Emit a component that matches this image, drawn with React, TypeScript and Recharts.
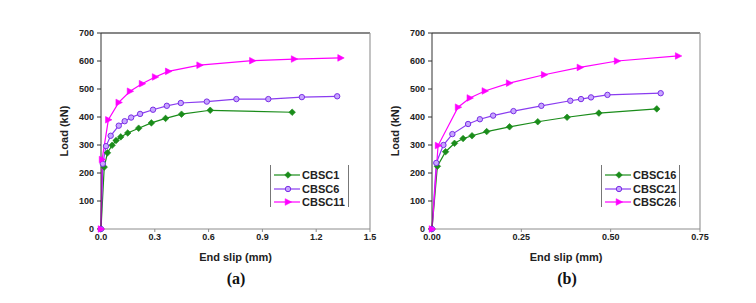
import React from 'react';
import { LineChart, Line, XAxis, YAxis, ReferenceLine } from 'recharts';

// (a) series: end slip (mm) and load (kN)
const cbsc1Slip = [0, 0.018, 0.036, 0.062, 0.084, 0.11, 0.149, 0.21, 0.281, 0.36, 0.449, 0.609, 1.066];
const cbsc1Load = [0, 221, 272, 299, 316, 329, 343, 360, 379, 395, 410, 424, 417];
const cbsc6Slip = [0, 0.01, 0.028, 0.054, 0.099, 0.132, 0.168, 0.218, 0.29, 0.367, 0.445, 0.59, 0.755, 0.933, 1.12, 1.317];
const cbsc6Load = [0, 233, 296, 333, 369, 385, 398, 411, 426, 440, 450, 455, 464, 464, 471, 474];
const cbsc11Slip = [0, 0.006, 0.041, 0.099, 0.162, 0.229, 0.302, 0.375, 0.55, 0.844, 1.077, 1.336];
const cbsc11Load = [0, 248, 390, 452, 492, 519, 543, 563, 585, 601, 607, 611];

// (b) series
const cbsc16Slip = [0, 0.015, 0.038, 0.063, 0.087, 0.112, 0.153, 0.217, 0.296, 0.378, 0.467, 0.629];
const cbsc16Load = [0, 224, 276, 306, 323, 333, 348, 365, 383, 399, 414, 429];
const cbsc21Slip = [0, 0.012, 0.032, 0.057, 0.101, 0.134, 0.171, 0.228, 0.306, 0.387, 0.417, 0.445, 0.491, 0.64];
const cbsc21Load = [0, 236, 300, 339, 375, 392, 405, 421, 440, 458, 464, 470, 479, 485];
const cbsc26Slip = [0, 0.017, 0.073, 0.106, 0.148, 0.216, 0.314, 0.414, 0.518, 0.689];
const cbsc26Load = [0, 298, 435, 468, 493, 521, 551, 577, 600, 618];

const loadTicks = [0, 100, 200, 300, 400, 500, 600, 700];
const slipTicksA = [0, 0.3, 0.6, 0.9, 1.2, 1.5];
const slipTicksB = [0, 0.25, 0.5, 0.75];

const GREEN = '#1a8c1a';
const PURPLE = '#8a3cf0';
const MAGENTA = '#ff00ff';
const FONT = "Arial, 'Liberation Sans', sans-serif";

const zip = (xs: number[], ys: number[]) => xs.map((x, i) => ({ x, y: ys[i] }));

const Diamond = ({ cx, cy }: any) => (
  <polygon
    points={`${cx},${cy - 3.3} ${cx + 3.3},${cy} ${cx},${cy + 3.3} ${cx - 3.3},${cy}`}
    fill={GREEN}
    stroke={GREEN}
    strokeWidth={0.6}
  />
);
const Ball = ({ cx, cy }: any) => (
  <circle cx={cx} cy={cy} r={2.7} fill="#c7a6ff" stroke="#7a2ee6" strokeWidth={1} />
);
const Tri = ({ cx, cy }: any) => (
  <polygon
    points={`${cx + 3.6},${cy} ${cx - 2.8},${cy - 3.3} ${cx - 2.8},${cy + 3.3}`}
    fill={MAGENTA}
    stroke={MAGENTA}
    strokeWidth={0.6}
  />
);

const markers: Record<string, React.FC<any>> = { d: Diamond, c: Ball, t: Tri };

interface SeriesDef {
  name: string;
  data: { x: number; y: number }[];
  color: string;
  marker: string;
}

interface PanelProps {
  series: SeriesDef[];
  ticks: number[];
  digits: number;
  width: number;
  left: number;
  marginLeft: number;
  marginRight: number;
  legendLeft: number;
  caption: string;
  captionX: number;
}

const tickStyle = { fill: '#222', fontSize: 9, fontWeight: 700, fontFamily: FONT };

const Panel = ({ series, ticks, digits, width, left, marginLeft, marginRight, legendLeft, caption, captionX }: PanelProps) => {
  const xMax = ticks[ticks.length - 1];
  return (
    <div style={{ position: 'absolute', left, top: 0, width, height: 303 }}>
      <LineChart
        width={width}
        height={303}
        margin={{ top: 33, right: marginRight, bottom: 34, left: marginLeft }}
      >
        <XAxis
          type="number"
          dataKey="x"
          domain={[0, xMax]}
          ticks={ticks}
          tickFormatter={(v: number) => v.toFixed(digits)}
          allowDuplicatedCategory={false}
          height={40}
          stroke="#8c8c8c"
          tickSize={3}
          tickMargin={2}
          tick={tickStyle}
          label={{
            value: 'End slip (mm)',
            position: 'insideBottom',
            offset: 8,
            style: { fill: '#222', fontSize: 11, fontWeight: 700, fontFamily: FONT },
          }}
        />
        <YAxis
          type="number"
          dataKey="y"
          domain={[0, 700]}
          ticks={loadTicks}
          width={40}
          stroke="#333"
          tickSize={4}
          tickMargin={3}
          tick={tickStyle}
          label={{
            value: 'Load (kN)',
            angle: -90,
            position: 'insideLeft',
            offset: 3,
            style: { fill: '#222', fontSize: 11, fontWeight: 700, fontFamily: FONT, textAnchor: 'middle' },
          }}
        />
        <ReferenceLine y={700} stroke="#111" strokeWidth={1.2} />
        <ReferenceLine x={xMax} stroke="#9a9a9a" strokeWidth={1.2} />
        {series.map((s) => {
          const M = markers[s.marker];
          return (
            <Line
              key={s.name}
              data={s.data}
              dataKey="y"
              name={s.name}
              type="linear"
              stroke={s.color}
              strokeWidth={1.2}
              dot={(p: any) => <M key={`${s.name}-${p.index}`} cx={p.cx} cy={p.cy} />}
              activeDot={false}
              isAnimationActive={false}
            />
          );
        })}
      </LineChart>
      <div
        style={{
          position: 'absolute',
          left: legendLeft,
          top: 165,
          width: 77,
          height: 42,
          borderLeft: '1px solid #777',
          borderRight: '1px solid #777',
        }}
      >
        {series.map((s, i) => {
          const M = markers[s.marker];
          return (
            <div key={s.name} style={{ position: 'absolute', left: 3, top: 4 + i * 13.5, height: 12, display: 'flex', alignItems: 'center' }}>
              <svg width={26} height={12}>
                <line x1={0} y1={6} x2={26} y2={6} stroke={s.color} strokeWidth={1.2} />
                <M cx={14} cy={6} />
              </svg>
              <span style={{ fontFamily: FONT, fontSize: 11, fontWeight: 700, color: '#222', marginLeft: 2, lineHeight: '12px' }}>
                {s.name}
              </span>
            </div>
          );
        })}
      </div>
      <div
        style={{
          position: 'absolute',
          left: captionX - left - 20,
          width: 40,
          top: 270,
          textAlign: 'center',
          fontFamily: "'Times New Roman', 'Liberation Serif', serif",
          fontWeight: 700,
          fontSize: 16,
          color: '#111',
        }}
      >
        {caption}
      </div>
    </div>
  );
};

const seriesA: SeriesDef[] = [
  { name: 'CBSC1', data: zip(cbsc1Slip, cbsc1Load), color: GREEN, marker: 'd' },
  { name: 'CBSC6', data: zip(cbsc6Slip, cbsc6Load), color: PURPLE, marker: 'c' },
  { name: 'CBSC11', data: zip(cbsc11Slip, cbsc11Load), color: MAGENTA, marker: 't' },
];
const seriesB: SeriesDef[] = [
  { name: 'CBSC16', data: zip(cbsc16Slip, cbsc16Load), color: GREEN, marker: 'd' },
  { name: 'CBSC21', data: zip(cbsc21Slip, cbsc21Load), color: PURPLE, marker: 'c' },
  { name: 'CBSC26', data: zip(cbsc26Slip, cbsc26Load), color: MAGENTA, marker: 't' },
];

export default function App() {
  return (
    <div style={{ position: 'absolute', left: 0, top: 0, width: 756, height: 303, background: '#fff', overflow: 'hidden' }}>
      <Panel
        series={seriesA}
        ticks={slipTicksA}
        digits={1}
        width={380}
        left={0}
        marginLeft={61}
        marginRight={10}
        legendLeft={270}
        caption="(a)"
        captionX={236}
      />
      <Panel
        series={seriesB}
        ticks={slipTicksB}
        digits={2}
        width={376}
        left={380}
        marginLeft={12}
        marginRight={56}
        legendLeft={221}
        caption="(b)"
        captionX={567}
      />
    </div>
  );
}
